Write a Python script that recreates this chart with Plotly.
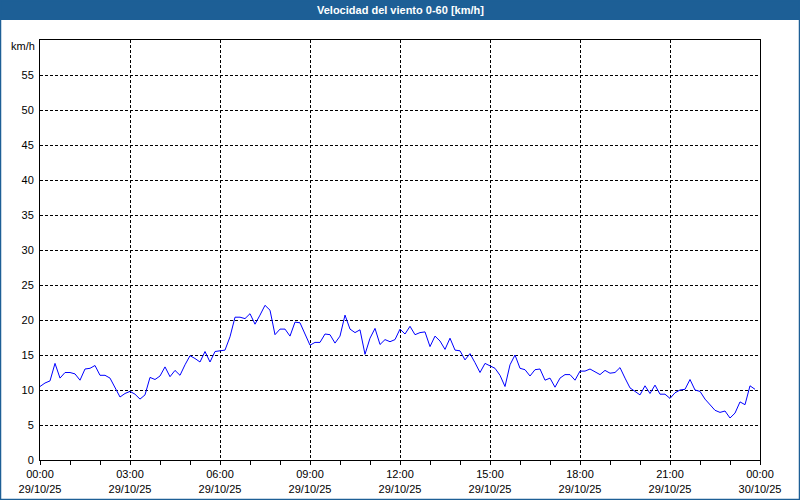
import pandas as pd
import plotly.graph_objects as go

title_text = "Velocidad del viento 0-60 [km/h]"
unit_label = "km/h"

# wind speed every 10 minutes, 29/10/25 00:00 .. 23:50
speed_00_04 = [10.5, 11.0, 11.3, 13.8, 11.7, 12.5, 12.5, 12.3, 11.4, 13.0, 13.1, 13.5,
               12.1, 12.1, 11.7, 10.4, 9.0, 9.5, 9.8, 9.4, 8.7, 9.3, 11.8, 11.5]
speed_04_08 = [12.0, 13.3, 11.9, 12.8, 12.1, 13.6, 14.9, 14.5, 14.0, 15.5, 14.0, 15.5,
               15.6, 15.7, 17.6, 20.4, 20.4, 20.2, 20.9, 19.4, 20.7, 22.1, 21.4, 17.9]
speed_08_12 = [18.7, 18.7, 17.7, 19.7, 19.6, 18.1, 16.4, 16.8, 16.8, 18.0, 17.9, 16.7,
               17.7, 20.7, 18.7, 18.2, 18.6, 15.1, 17.4, 18.8, 16.5, 17.2, 16.9, 17.2]
speed_12_16 = [18.7, 18.0, 19.1, 17.9, 18.2, 18.3, 16.2, 17.7, 17.0, 15.8, 17.4, 15.7,
               15.6, 14.3, 15.2, 13.9, 12.5, 13.8, 13.5, 13.1, 12.1, 10.5, 13.6, 15.0]
speed_16_20 = [13.1, 12.9, 12.0, 12.9, 13.0, 11.4, 11.7, 10.4, 11.7, 12.2, 12.2, 11.4,
               12.7, 12.7, 13.0, 12.6, 12.2, 12.8, 12.4, 12.5, 13.2, 11.7, 10.3, 9.8]
speed_20_24 = [9.3, 10.6, 9.5, 10.7, 9.4, 9.4, 8.8, 9.6, 10.0, 10.1, 11.5, 10.0,
               9.8, 8.7, 7.9, 7.1, 6.8, 7.0, 6.0, 6.7, 8.3, 7.9, 10.6, 10.1]

speeds = speed_00_04 + speed_04_08 + speed_08_12 + speed_12_16 + speed_16_20 + speed_20_24
times = pd.date_range("2025-10-29 00:00", periods=len(speeds), freq="10min")

tick_hours = ["00:00", "03:00", "06:00", "09:00", "12:00", "15:00", "18:00", "21:00", "00:00"]
tick_dates = ["29/10/25"] * 8 + ["30/10/25"]
tick_times = pd.date_range("2025-10-29 00:00", "2025-10-30 00:00", freq="3h")
y_ticks = [0, 5, 10, 15, 20, 25, 30, 35, 40, 45, 50, 55]

W, H = 800, 500
ML, MR, MT, MB = 40, 40, 40, 40
PW, PH = W - ML - MR, H - MT - MB

def px(xp):
    return (xp - ML) / PW

def py(yp):
    return (H - MB - yp) / PH

BLUE = "#1d5f96"
FONT = "Liberation Sans"

fig = go.Figure()
fig.add_trace(go.Scatter(x=times, y=speeds, mode="lines",
                         line=dict(color="#0000ff", width=1), hoverinfo="x+y"))

fig.update_layout(
    width=W, height=H,
    margin=dict(l=ML, r=MR, t=MT, b=MB, pad=0),
    paper_bgcolor="white", plot_bgcolor="white",
    showlegend=False,
    font=dict(family=FONT, size=11, color="black"),
    xaxis=dict(
        range=[tick_times[0], tick_times[-1]],
        tickvals=list(tick_times),
        ticktext=[f"{h}<br>{d}" for h, d in zip(tick_hours, tick_dates)],
        ticks="outside", ticklen=4, tickcolor="black", tickwidth=1,
        minor=dict(dtick=3600000, ticks="outside", ticklen=4, tickcolor="black",
                   showgrid=False),
        showgrid=True, gridcolor="black", gridwidth=1, griddash="3px,2px",
        showline=True, linecolor="black", linewidth=1, mirror=True,
        zeroline=False, automargin=False,
        tickfont=dict(family=FONT, size=11, color="black"),
    ),
    yaxis=dict(
        range=[0, 60],
        tickvals=y_ticks,
        ticks="", ticklabelstandoff=3,
        showgrid=True, gridcolor="black", gridwidth=1, griddash="3px,2px",
        showline=True, linecolor="black", linewidth=1, mirror=True,
        zeroline=False, automargin=False,
        tickfont=dict(family=FONT, size=11, color="black"),
    ),
    shapes=[
        dict(type="rect", xref="paper", yref="paper",
             x0=px(0), x1=px(W), y0=py(20), y1=py(0),
             fillcolor=BLUE, line=dict(width=0), layer="below"),
        dict(type="rect", xref="paper", yref="paper",
             x0=px(0.5), x1=px(W - 0.5), y0=py(H - 0.5), y1=py(0.5),
             fillcolor="rgba(0,0,0,0)", line=dict(color=BLUE, width=1.5)),
    ],
    annotations=[
        dict(text=f"<b>{title_text}</b>", xref="paper", yref="paper",
             x=px(W / 2), y=py(10), xanchor="center", yanchor="middle",
             showarrow=False, font=dict(family=FONT, size=11, color="white")),
        dict(text=unit_label, xref="paper", yref="paper",
             x=px(37), y=py(46), xanchor="right", yanchor="middle",
             showarrow=False, font=dict(family=FONT, size=11, color="black")),
    ],
)

fig.write_html("out.html",
               config={"displayModeBar": False},
               post_script="document.body.style.margin='0';document.body.style.overflow='hidden';")
